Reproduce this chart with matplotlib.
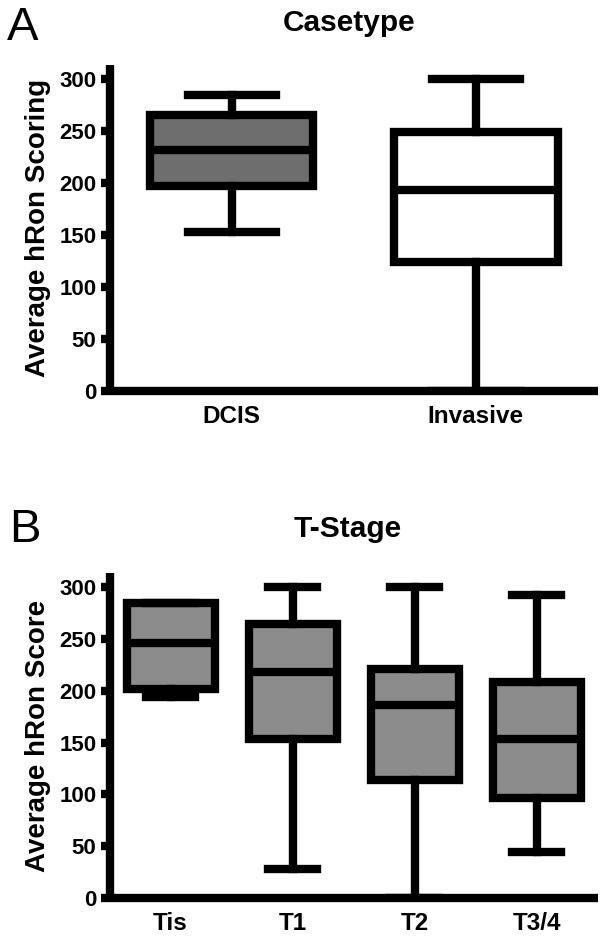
import matplotlib
matplotlib.use('Agg')
import matplotlib.pyplot as plt

plt.rcParams['font.family'] = ['Liberation Sans', 'DejaVu Sans']

# Panel A - case type
case_labels = ['DCIS', 'Invasive']
case_whislo = [153, 0]
case_q1 = [197, 124]
case_med = [232, 193]
case_q3 = [265, 249]
case_whishi = [284, 300]
case_colors = ['#6e6e6e', '#ffffff']

# Panel B - T-stage
stage_labels = ['Tis', 'T1', 'T2', 'T3/4']
stage_whislo = [194, 28, 0, 44]
stage_q1 = [202, 153, 114, 96]
stage_med = [246, 218, 186, 153]
stage_q3 = [285, 264, 221, 208]
stage_whishi = [285, 300, 300, 292]
stage_color = '#8c8c8c'

LW = 6.0


def make_stats(labels, lo, q1, med, q3, hi):
    return [dict(label=l, whislo=a, q1=b, med=c, q3=d, whishi=e, fliers=[])
            for l, a, b, c, d, e in zip(labels, lo, q1, med, q3, hi)]


def style_axes(ax, ylabel, n):
    ax.set_xlim(0.5, n + 0.5)
    ax.set_ylim(0, 313)
    ax.set_yticks([0, 50, 100, 150, 200, 250, 300])
    for s in ['top', 'right']:
        ax.spines[s].set_visible(False)
    for s in ['left', 'bottom']:
        ax.spines[s].set_linewidth(LW)
        ax.spines[s].set_capstyle('butt')
    ax.tick_params(axis='y', length=6.5, width=LW, direction='out', pad=3,
                   labelsize=16)
    ax.tick_params(axis='x', length=0, pad=10, labelsize=17.5)
    for t in ax.get_xticklabels() + ax.get_yticklabels():
        t.set_fontweight('bold')
    ax.set_ylabel(ylabel, fontsize=20, fontweight='bold', labelpad=6)


fig = plt.figure(figsize=(6, 9.38), dpi=100)

axA = fig.add_axes([0.1825, 0.583, 0.814, 0.3475])
stA = make_stats(case_labels, case_whislo, case_q1, case_med, case_q3, case_whishi)
bpA = axA.bxp(stA, positions=[1, 2], widths=0.67, patch_artist=True,
              showfliers=False,
              boxprops=dict(linewidth=LW),
              medianprops=dict(color='black', linewidth=LW),
              whiskerprops=dict(linewidth=LW),
              capprops=dict(linewidth=LW),
              capwidths=0.36)
for patch, c in zip(bpA['boxes'], case_colors):
    patch.set_facecolor(c)
    patch.set_edgecolor('black')
style_axes(axA, 'Average hRon Scoring', 2)

axB = fig.add_axes([0.1825, 0.0426, 0.814, 0.346])
stB = make_stats(stage_labels, stage_whislo, stage_q1, stage_med, stage_q3, stage_whishi)
bpB = axB.bxp(stB, positions=[1, 2, 3, 4], widths=0.72, patch_artist=True,
              showfliers=False,
              boxprops=dict(linewidth=LW),
              medianprops=dict(color='black', linewidth=LW),
              whiskerprops=dict(linewidth=LW),
              capprops=dict(linewidth=LW),
              capwidths=0.4)
for patch in bpB['boxes']:
    patch.set_facecolor(stage_color)
    patch.set_edgecolor('black')
style_axes(axB, 'Average hRon Score', 4)

# panel letters and titles
fig.text(0.012, 1 - 6 / 938, 'A', fontsize=34, va='top', ha='left')
fig.text(0.581, 1 - 31 / 938, 'Casetype', fontsize=21.5, fontweight='bold',
         ha='center', va='baseline')
fig.text(0.015, 1 - 508 / 938, 'B', fontsize=34, va='top', ha='left')
fig.text(0.579, 1 - 537 / 938, 'T-Stage', fontsize=21.5, fontweight='bold',
         ha='center', va='baseline')

fig.savefig('out.png', dpi=100)
